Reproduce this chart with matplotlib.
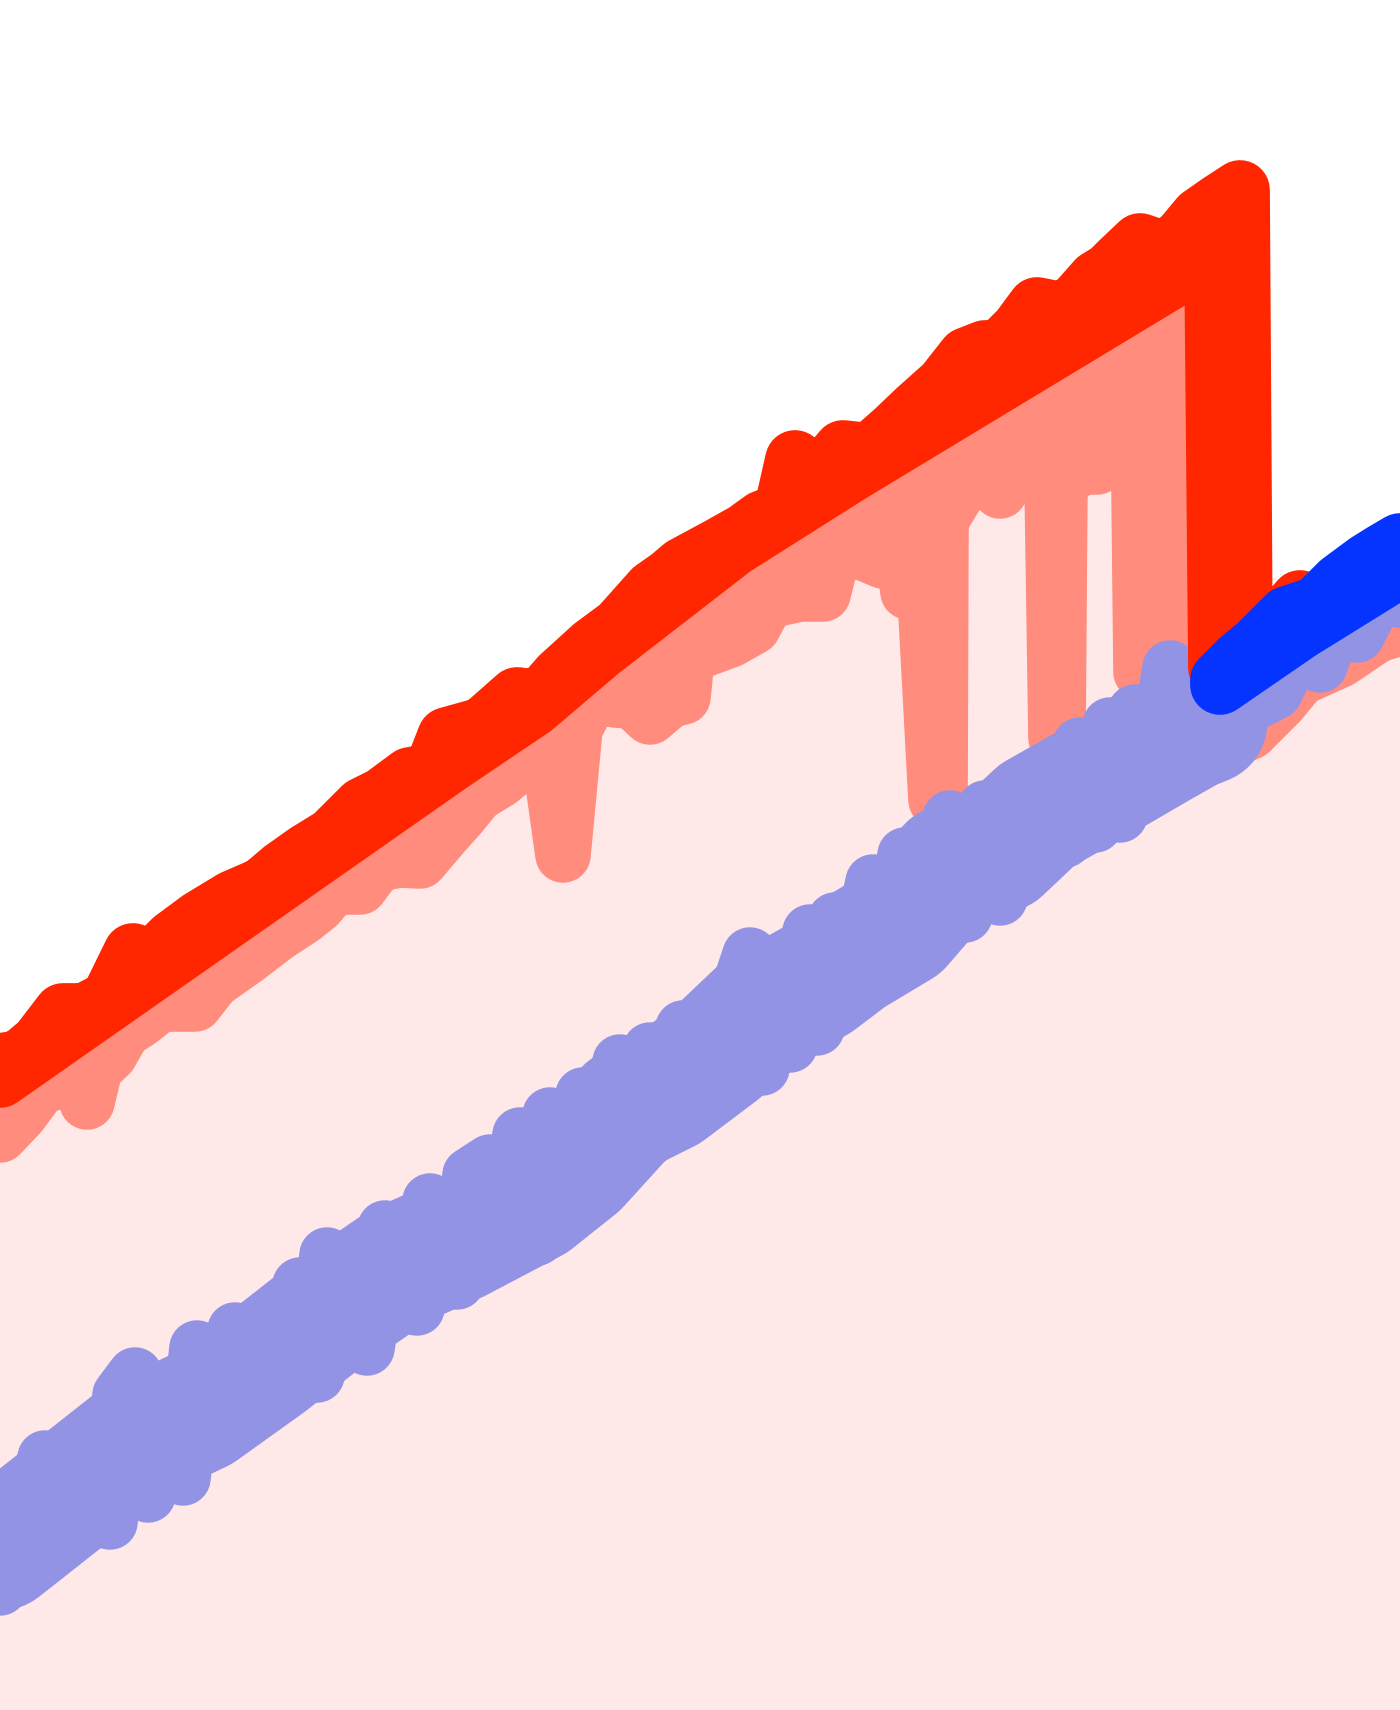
import matplotlib
matplotlib.use('Agg')
import matplotlib.pyplot as plt
import numpy as np

# 확대된 구간: x는 시간축, y는 값 (화면 기준, 위쪽이 작은 값)
# 빨간 추세선
trend_x = [0, 450, 533, 600, 733, 850, 1214, 1218, 1300, 1400]
trend_y = [1078, 763, 707, 650, 547, 473, 253, 668, 620, 562]

# 빨간 고가 (노이즈)
high_x = [0, 20, 40, 63, 85, 110, 133, 150, 173, 200, 233, 263, 283, 307, 333,
          363, 383, 410, 433, 447, 465, 483, 500, 517, 540, 560, 593, 620, 653, 670,
          683, 720, 745, 763, 783, 795, 815, 843, 870, 895, 917, 945, 967, 985, 1000,
          1020, 1037, 1052, 1067, 1082, 1097, 1110, 1120, 1140, 1155, 1167, 1185, 1200, 1220, 1240,
          1243, 1270, 1300, 1325, 1345, 1375, 1400]
high_y = [1063, 1060, 1043, 1013, 1013, 1000, 953, 963, 940, 920, 900, 887, 870, 853, 837,
          807, 797, 777, 773, 737, 732, 727, 712, 697, 700, 677, 647, 627, 590, 578,
          567, 547, 533, 520, 513, 460, 483, 450, 453, 431, 410, 385, 357, 350, 350,
          330, 307, 310, 313, 297, 280, 272, 262, 243, 248, 253, 235, 217, 203, 190,
          655, 635, 600, 612, 588, 560, 555]

# 연어색 저가 (아래로 튀는 값 포함)
low_x = [0, 20, 40, 62, 80, 87, 95, 110, 123, 140, 160, 195, 213, 247, 277,
         303, 318, 333, 360, 377, 400, 420, 443, 460, 477, 500, 527, 548, 563, 575,
         593, 615, 633, 650, 670, 683, 687, 700, 730, 753, 767, 800, 823, 833, 850,
         883, 900, 908, 925, 936, 940, 941, 955, 967, 983, 1000, 1017, 1030, 1052, 1056,
         1058, 1060, 1083, 1097, 1100, 1107, 1127, 1138, 1141, 1144, 1146, 1157, 1165, 1175, 1185,
         1188, 1192, 1205, 1250, 1280, 1300, 1340, 1377, 1400]
low_y = [1135, 1114, 1087, 1080, 1075, 1102, 1068, 1054, 1031, 1020, 1004, 1004, 981, 957, 934,
         917, 905, 887, 887, 864, 860, 861, 834, 815, 794, 780, 757, 748, 855, 728,
         694, 700, 701, 717, 700, 697, 657, 651, 640, 627, 601, 594, 594, 554, 547,
         561, 531, 592, 595, 800, 800, 520, 497, 461, 461, 491, 457, 467, 480, 738,
         738, 480, 467, 467, 391, 367, 367, 400, 672, 672, 390, 377, 334, 350, 380,
         660, 662, 752, 732, 702, 678, 660, 635, 628]

# 연보라 계열 (노이즈 큼)
lav_x = [0, 12, 25, 45, 62, 80, 110, 120, 135, 148, 160, 183, 197, 215, 235,
         250, 267, 283, 300, 317, 327, 343, 355, 367, 385, 400, 417, 430, 457, 470,
         490, 505, 520, 537, 550, 565, 583, 600, 620, 633, 650, 667, 683, 700, 713,
         735, 750, 762, 775, 790, 810, 817, 835, 850, 873, 888, 905, 920, 950, 965,
         985, 1000, 1020, 1037, 1050, 1065, 1080, 1095, 1110, 1120, 1135, 1150, 1170, 1185, 1200,
         1215, 1235, 1250, 1275, 1300, 1320, 1340, 1357, 1380, 1400]
lav_y = [1588, 1503, 1571, 1458, 1543, 1443, 1522, 1395, 1375, 1495, 1390, 1478, 1348, 1435, 1330,
         1407, 1322, 1388, 1285, 1375, 1255, 1343, 1255, 1348, 1228, 1302, 1308, 1201, 1282, 1175,
         1162, 1250, 1135, 1238, 1115, 1200, 1095, 1170, 1062, 1148, 1050, 1125, 1028, 1095, 1078,
         1000, 955, 1068, 975, 1045, 932, 1028, 920, 995, 882, 970, 855, 945, 818, 915,
         808, 898, 790, 852, 770, 840, 745, 825, 725, 815, 712, 790, 668, 770, 700,
         725, 712, 705, 692, 640, 665, 610, 635, 590, 600]

# 연보라 평균선 (띠 가운데)
lav_mid_x = [0, 137, 200, 267, 327, 400, 457, 533, 577, 627, 667, 720, 760, 817,
             850, 900, 950, 1000, 1037, 1090, 1117, 1160, 1190, 1205]
lav_mid_y = [1548, 1440, 1410, 1362, 1315, 1265, 1240, 1200, 1165, 1110, 1090, 1050, 1012, 980,
             955, 925, 867, 850, 815, 785, 770, 745, 728, 722]

# 파란 계열 (급락 이후)
blue_x = [1220, 1300, 1400]
blue_y = [685, 630, 568]
blue_noise_x = [1220, 1240, 1257, 1287, 1317, 1340, 1367, 1383, 1400]
blue_noise_y = [680, 660, 646, 616, 606, 583, 563, 553, 543]

RED = '#ff2600'
SALMON = '#ff8c7c'
PINK = '#ffe9e8'
LAVENDER = '#9393e6'
BLUE = '#0533ff'

fig = plt.figure(figsize=(14, 17.1), dpi=100)
ax = fig.add_axes([0, 0, 1, 1])
ax.set_xlim(0, 1400)
ax.set_ylim(1710, 0)
ax.axis('off')

line_kw = dict(solid_capstyle='round', solid_joinstyle='round')

# 추세선 아래 영역 (연분홍)
ax.fill(np.r_[trend_x, 1400, 0], np.r_[trend_y, 1710, 1710], color=PINK, lw=0, zorder=1)

# 추세선 ~ 저가 사이 (연어색)
ax.fill(np.r_[low_x, trend_x[::-1]], np.r_[low_y, trend_y[::-1]], color=SALMON, lw=0, zorder=2)
ax.plot(low_x, low_y, color=SALMON, lw=40, zorder=3, **line_kw)

ax.plot(lav_mid_x, lav_mid_y, color=LAVENDER, lw=90, zorder=4, **line_kw)
ax.plot(lav_x, lav_y, color=LAVENDER, lw=40, zorder=4, **line_kw)

ax.plot(trend_x, trend_y, color=RED, lw=43, zorder=5, **line_kw)
ax.plot(high_x, high_y, color=RED, lw=43, zorder=6, **line_kw)

ax.plot(blue_x, blue_y, color=BLUE, lw=43, zorder=7, **line_kw)
ax.plot(blue_noise_x, blue_noise_y, color=BLUE, lw=43, zorder=8, **line_kw)

fig.savefig('out.png', dpi=100)
